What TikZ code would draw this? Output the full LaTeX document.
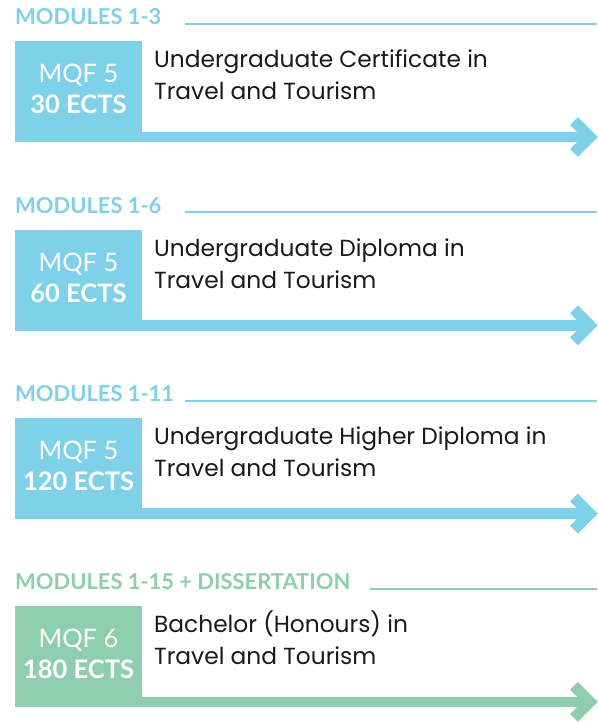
\documentclass[tikz,border=0pt]{standalone}
\usepackage{fontspec}
\setmainfont{Lato}
\newfontfamily\awardfont{Poppins}
\definecolor{sky}{HTML}{7DD1E8}
\definecolor{mint}{HTML}{8DCEAF}
\tikzset{
  modhead/.style={anchor=base west, inner sep=0pt, font=\fontsize{21.9}{22}\selectfont\bfseries},
  gradebox/.style={anchor=north west, inner sep=0pt, minimum width=127pt, minimum height=101pt},
  mqf/.style={anchor=base, inner sep=0pt, white, font=\fontsize{25.5}{25}\selectfont},
  ects/.style={anchor=base, inner sep=0pt, white, font=\fontsize{25.5}{25}\selectfont\bfseries},
  award/.style={anchor=base west, inner sep=0pt, black!90, font=\awardfont\fontsize{23.3}{23}\selectfont},
}
\begin{document}
\begin{tikzpicture}[x=1pt,y=-1pt]
  \useasboundingbox (0,0) rectangle (597,722);
  \foreach \n/\mods/\gap/\lvl/\pts/\lineA/\col in {%
      0/MODULES 1-3/185/5/30/Undergraduate Certificate in/sky,
      1/MODULES 1-6/185/5/60/Undergraduate Diploma in/sky,
      2/MODULES 1-11/185/5/120/Undergraduate Higher Diploma in/sky,
      3/MODULES 1-15 + DISSERTATION/370/6/180/Bachelor (Honours) in/mint}
  {
    \pgfmathsetmacro\t{188.3*\n}
    % header with thin rule
    \node (head\n) [modhead, text=\col] at (15,25+\t) {\mods};
    \coordinate (rule\n) at (\gap,24+\t);
    \coordinate (ruleend\n) at (597,24+\t);
    \draw [\col, line width=2pt] (rule\n) -- (ruleend\n);
    % level box
    \node (box\n) [gradebox, fill=\col] at (15,41+\t) {};
    \node (grade\n) [mqf] at (78.5,83+\t) {MQF \lvl};
    \node (ects\n) [ects] at (78.5,114+\t) {\pts{} ECTS};
    % award title
    \node (titleA\n) [award] at (154,68+\t) {\lineA};
    \node (titleB\n) [award] at (154,100+\t) {Travel and Tourism};
    % arrow
    \coordinate (bar\n) at (142,137+\t);
    \coordinate (tip\n) at (590,137+\t);
    \coordinate (wingA\n) at (574,121+\t);
    \coordinate (wingB\n) at (574,153+\t);
    \draw [\col, line width=10.5pt] (bar\n) -- (tip\n);
    \draw [\col, line width=11pt, miter limit=4] (wingA\n) -- (tip\n) -- (wingB\n);
  }
\end{tikzpicture}
\end{document}
